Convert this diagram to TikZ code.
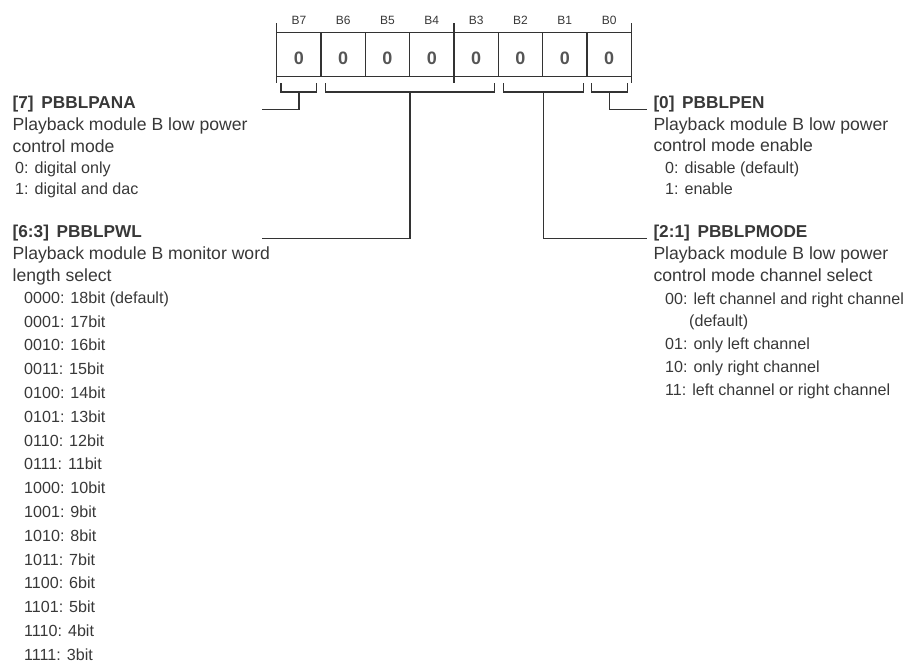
\documentclass[tikz,border=0pt]{standalone}
\usepackage{fontspec}
\setmainfont{Liberation Sans}
\definecolor{ink}{HTML}{333333}
\definecolor{txt}{HTML}{383838}
\definecolor{valc}{HTML}{555555}
\begin{document}
\begin{tikzpicture}[x=1pt,y=-1pt,
  ln/.style={draw=ink,line width=1.1pt},
  bitlbl/.style={font=\fontsize{12}{14}\selectfont,text=txt,inner sep=0pt},
  val/.style={font=\fontsize{18}{20}\selectfont\bfseries,text=valc,inner sep=0pt},
  hdr/.style={anchor=base west,inner sep=0pt,text=txt,font=\fontsize{17.2}{20}\selectfont\bfseries},
  desc/.style={anchor=base west,inner sep=0pt,text=txt,font=\fontsize{17.6}{20}\selectfont},
  item/.style={anchor=base west,inner sep=0pt,text=txt,font=\fontsize{16.1}{18}\selectfont}]
\useasboundingbox (0,0) rectangle (906,662);
% register box
\foreach \i/\x in {7/299,6/343.2,5/387.5,4/431.8,3/476.2,2/520.5,1/564.8,0/609.2}{
  \node[val] (v\i) at (\x,58) {0};
  \node[bitlbl] (l\i) at (\x,20) {B\i};
}
\draw[ln] (276.7,32.3) rectangle (631.3,76.7);
\foreach \x in {321,365.3,409.7,498.3,542.7,587}{\draw[ln] (\x,32.3) -- (\x,76.7);}
\foreach \x in {276.7,454,631.3}{\draw[ln] (\x,23) -- (\x,83);}
% brackets
\coordinate (s7) at (299,92);
\coordinate (s63) at (410,92);
\coordinate (s21) at (543.3,92);
\coordinate (s0) at (609.5,92);
\draw[ln] (281,83) -- (281,92) -- (316.7,92) -- (316.7,83);
\draw[ln] (325.7,83) -- (325.7,92) -- (494.3,92) -- (494.3,83);
\draw[ln] (503.3,83) -- (503.3,92) -- (583.3,92) -- (583.3,83);
\draw[ln] (591.7,83) -- (591.7,92) -- (627.7,92) -- (627.7,83);
\coordinate (e7) at (261.7,109.3);
\coordinate (e63) at (261.7,238.3);
\coordinate (e21) at (647,238.3);
\coordinate (e0) at (647,109.3);
\draw[ln] (s7) |- (e7);
\draw[ln] (s63) |- (e63);
\draw[ln] (s21) |- (e21);
\draw[ln] (s0) |- (e0);
% left texts
\node[hdr] (h7) at (12.5,108.3) {[7]\hspace{0.45em}PBBLPANA};
\node[desc] (d7a) at (12.5,130.5) {Playback module B low power};
\node[desc] (d7b) at (12.5,152) {control mode};
\node[item] (i7a) at (15,173.3) {0: digital only};
\node[item] (i7b) at (15,194.8) {1: digital and dac};
\node[hdr] (h63) at (12.5,237.3) {[6:3]\hspace{0.45em}PBBLPWL};
\node[desc] (d63a) at (12.5,259.3) {Playback module B monitor word};
\node[desc] (d63b) at (12.5,281.5) {length select};
\foreach \t [count=\k from 0] in {0000: 18bit (default),0001: 17bit,0010: 16bit,0011: 15bit,0100: 14bit,0101: 13bit,0110: 12bit,0111: 11bit,1000: 10bit,1001: 9bit,1010: 8bit,1011: 7bit,1100: 6bit,1101: 5bit,1110: 4bit,1111: 3bit}{
  \node[item] (w\k) at (24,303.3+\k*23.8) {\t};
}
% right texts
\node[hdr] (h0) at (653.3,108.3) {[0]\hspace{0.45em}PBBLPEN};
\node[desc] (d0a) at (653.3,130.3) {Playback module B low power};
\node[desc] (d0b) at (653.3,151.5) {control mode enable};
\node[item] (i0a) at (665,173) {0: disable (default)};
\node[item] (i0b) at (665,194.5) {1: enable};
\node[hdr] (h21) at (653.3,237.3) {[2:1]\hspace{0.45em}PBBLPMODE};
\node[desc] (d21a) at (653.3,259.3) {Playback module B low power};
\node[desc] (d21b) at (653.3,281) {control mode channel select};
\node[item] (m0) at (665,304.5) {00: left channel and right channel};
\node[item] (m0b) at (689,326.5) {(default)};
\node[item] (m1) at (665,349.5) {01: only left channel};
\node[item] (m2) at (665,372.5) {10: only right channel};
\node[item] (m3) at (665,395.5) {11: left channel or right channel};
\end{tikzpicture}
\end{document}
